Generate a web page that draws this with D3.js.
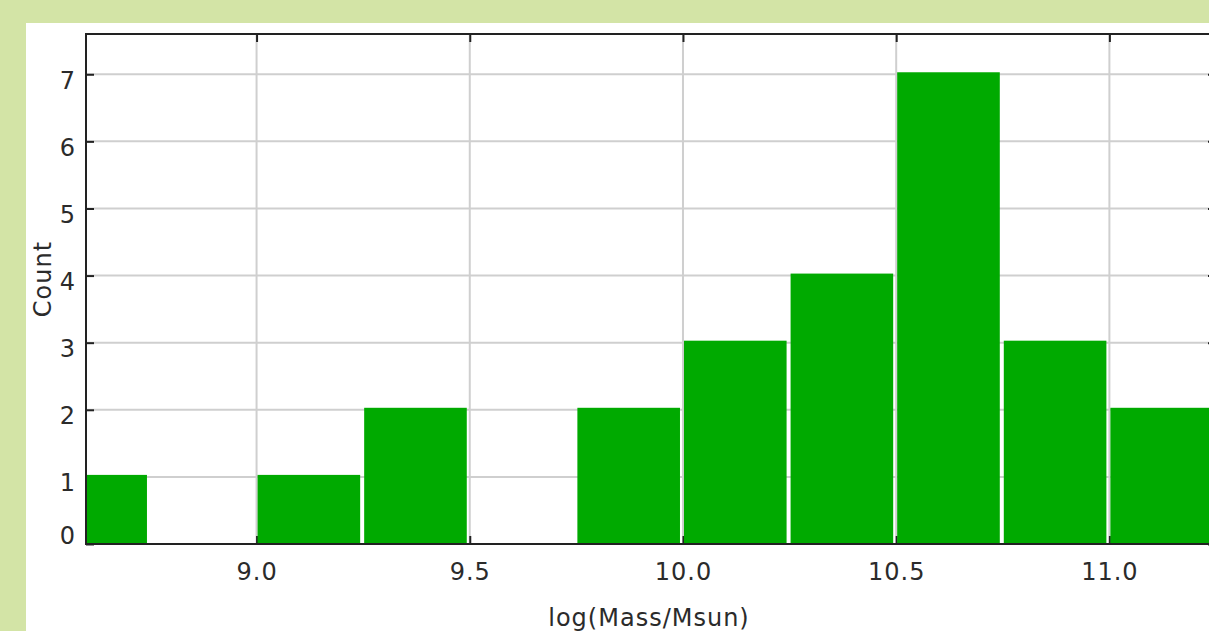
<!DOCTYPE html>
<html>
<head>
<meta charset="utf-8">
<script src="https://cdn.jsdelivr.net/npm/d3@7"></script>
<style>
  html, body { margin: 0; padding: 0; background: #d3e4a6; }
  svg { display: block; }
  text { font-family: "DejaVu Sans", Verdana, sans-serif; fill: #2b2b2b; letter-spacing: 1px; }
</style>
</head>
<body>
<svg id="chart" width="1209" height="631"></svg>
<script>
// Histogram of galaxy stellar masses, 0.25 dex bins
const binStarts = [8.5, 8.75, 9.0, 9.25, 9.5, 9.75, 10.0, 10.25, 10.5, 10.75, 11.0];
const binWidth = 0.25;
const counts = [1, 0, 1, 2, 0, 2, 3, 4, 7, 3, 2];
const xTickValues = [9.0, 9.5, 10.0, 10.5, 11.0];
const yTickValues = [0, 1, 2, 3, 4, 5, 6, 7];
const xDomain = [8.6, 11.25];
const yDomain = [0, 7.6];
const xTitle = "log(Mass/Msun)";
const yTitle = "Count";

const svg = d3.select("#chart");
const W = 1209, H = 631;
const plot = { left: 86, top: 34, right: 1216, bottom: 544 };

const x = d3.scaleLinear().domain(xDomain).range([plot.left, plot.right]);
const y = d3.scaleLinear().domain(yDomain).range([plot.bottom, plot.top]);

// white panel behind the plot
svg.append("rect")
  .attr("x", 26).attr("y", 23)
  .attr("width", W - 26).attr("height", H - 23)
  .attr("fill", "#ffffff");

svg.append("clipPath").attr("id", "plot-clip")
  .append("rect")
  .attr("x", plot.left).attr("y", plot.top)
  .attr("width", plot.right - plot.left).attr("height", plot.bottom - plot.top);

// grid lines
const grid = svg.append("g").attr("stroke", "#cfcfcf").attr("stroke-width", 2);
grid.selectAll("line.gx").data(xTickValues).join("line")
  .attr("class", "gx")
  .attr("x1", d => x(d)).attr("x2", d => x(d))
  .attr("y1", plot.top).attr("y2", plot.bottom);
grid.selectAll("line.gy").data(yTickValues).join("line")
  .attr("class", "gy")
  .attr("x1", plot.left).attr("x2", plot.right)
  .attr("y1", d => y(d)).attr("y2", d => y(d));

// axes: inward ticks on all four sides, labels on bottom and left
function styleAxis(g) {
  g.select(".domain").remove();
  g.attr("color", "#222").attr("font-size", 24)
   .attr("font-family", "\"DejaVu Sans\", Verdana, sans-serif");
  g.selectAll(".tick line").attr("stroke-width", 2);
}

const gBottom = svg.append("g")
  .attr("transform", `translate(0,${plot.bottom})`)
  .call(d3.axisBottom(x).tickValues(xTickValues).tickFormat(d3.format(".1f"))
    .tickSizeInner(-8).tickSizeOuter(0).tickPadding(19))
  .call(styleAxis);
gBottom.selectAll(".tick text").attr("fill", "#2b2b2b");

const gTop = svg.append("g")
  .attr("transform", `translate(0,${plot.top})`)
  .call(d3.axisTop(x).tickValues(xTickValues).tickFormat("")
    .tickSizeInner(-8).tickSizeOuter(0))
  .call(styleAxis);

const gLeft = svg.append("g")
  .attr("transform", `translate(${plot.left},0)`)
  .call(d3.axisLeft(y).tickValues(yTickValues).tickFormat(d3.format("d"))
    .tickSizeInner(-8).tickSizeOuter(0).tickPadding(10))
  .call(styleAxis);
// keep labels inside the vertical extent of the plot
gLeft.selectAll(".tick text")
  .attr("fill", "#2b2b2b")
  .attr("dy", d => (Math.min(y(d) + 14, plot.bottom - 1) - y(d)) + "px");

const gRight = svg.append("g")
  .attr("transform", `translate(${plot.right},0)`)
  .call(d3.axisRight(y).tickValues(yTickValues).tickFormat("")
    .tickSizeInner(-8).tickSizeOuter(0))
  .call(styleAxis);

// bars
const bins = binStarts.map((b, i) => ({ x0: b, x1: b + binWidth, n: counts[i] }));
svg.append("g").attr("clip-path", "url(#plot-clip)")
  .selectAll("rect").data(bins.filter(d => d.n > 0)).join("rect")
  .attr("x", d => x(d.x0) + 1)
  .attr("width", d => x(d.x1) - x(d.x0) - 4)
  .attr("y", d => y(d.n) - 2)
  .attr("height", d => y(0) - y(d.n) + 2)
  .attr("fill", "#00aa00");

// frame
svg.append("rect")
  .attr("x", plot.left).attr("y", plot.top)
  .attr("width", plot.right - plot.left).attr("height", plot.bottom - plot.top)
  .attr("fill", "none").attr("stroke", "#222").attr("stroke-width", 2);

// axis titles
svg.append("text")
  .attr("x", (plot.left + plot.right) / 2 - 2).attr("y", 626)
  .attr("text-anchor", "middle").attr("font-size", 24)
  .text(xTitle);

svg.append("text")
  .attr("transform", "translate(51,279) rotate(-90)")
  .attr("text-anchor", "middle").attr("font-size", 24)
  .text(yTitle);
</script>
</body>
</html>
